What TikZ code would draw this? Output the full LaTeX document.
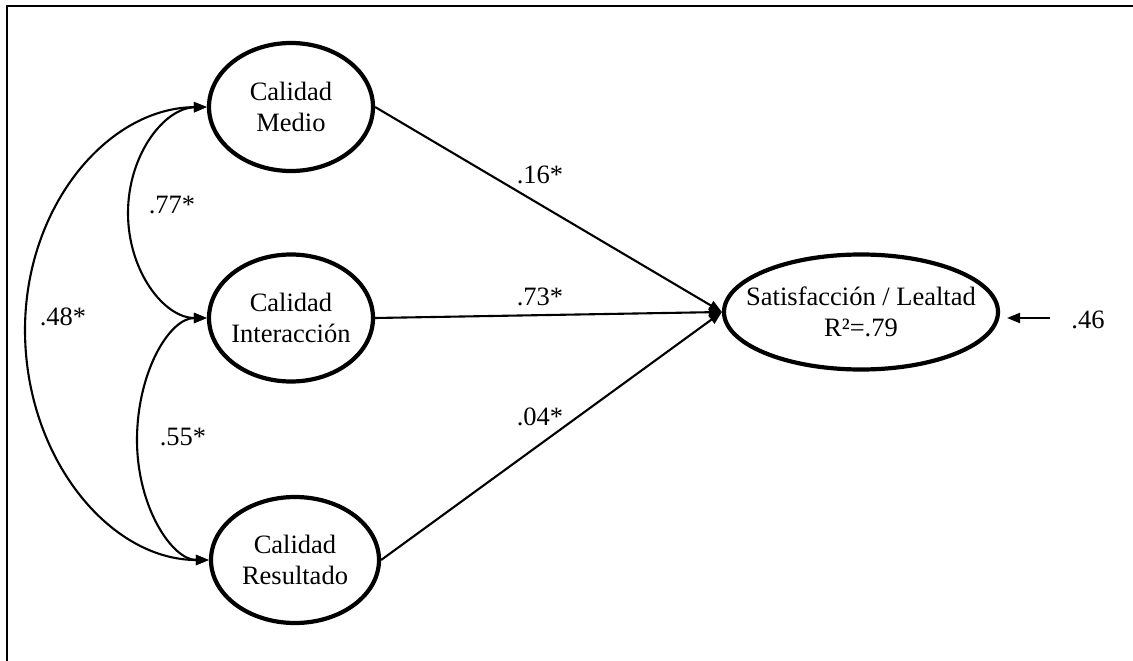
\documentclass[tikz,border=0pt]{standalone}
\usepackage{fontspec}
\setmainfont{Liberation Serif}
\usetikzlibrary{shapes.geometric,arrows.meta}
\begin{document}
\begin{tikzpicture}[x=1pt,y=-1pt,
  lat/.style={ellipse, draw, line width=4.2pt, inner sep=0pt},
  txt/.style={align=center, font=\fontsize{26.5}{31}\selectfont, inner sep=0pt},
  coef/.style={font=\fontsize{26.5}{31}\selectfont, inner sep=0pt},
  path/.style={line width=2.1pt, -{Triangle[length=13pt,width=10pt]}},
  cov/.style={line width=2.1pt, {Triangle[length=13pt,width=10pt]}-{Triangle[length=13pt,width=10pt]}},
  frame/.style={line width=2.8pt}]
\useasboundingbox (0,0) rectangle (1133,661);
% frame
\coordinate (fa) at (7,661);
\coordinate (fb) at (7,6);
\coordinate (fc) at (1133,6);
\draw[frame] (fa) -- (fb) -- (fc);
% latent variables
\node[lat, minimum width=164pt, minimum height=128pt,
  label={[txt]center:{Calidad\\Medio}}] (M) at (291,107) {};
\node[lat, minimum width=164pt, minimum height=127pt,
  label={[txt]center:{Calidad\\Interacción}}] (I) at (291,318) {};
\node[lat, minimum width=168pt, minimum height=126pt,
  label={[txt]center:{Calidad\\Resultado}}] (R) at (295,560) {};
\node[lat, minimum width=274pt, minimum height=115pt,
  label={[txt]center:{Satisfacción / Lealtad\\R²=.79}}] (S) at (861,312) {};
% structural paths
\draw[path] (M.east) -- (S.west);
\draw[path] (I.east) -- (S.west);
\draw[path] (R.east) -- (S.west);
\node[coef] (p1) at (540,175) {.16*};
\node[coef] (p2) at (540,297) {.73*};
\node[coef] (p3) at (540,417) {.04*};
% covariances
\coordinate (k1) at (128,213);
\coordinate (k2) at (137,440);
\coordinate (k3) at (25,330);
\draw[cov] (M.west) .. controls (164,108) and (128,155) .. (k1)
  .. controls (128,271) and (164,318) .. (I.west);
\draw[cov] (I.west) .. controls (169,318) and (137,373) .. (k2)
  .. controls (137,507) and (172,560) .. (R.west);
\draw[cov] (M.west) .. controls (107,108) and (25,207) .. (k3)
  .. controls (25,457) and (109,560) .. (R.west);
\node[coef] (c1) at (172,205) {.77*};
\node[coef] (c2) at (183,437) {.55*};
\node[coef] (c3) at (63,317) {.48*};
% disturbance
\node[coef] (e) at (1088,320) {.46};
\coordinate (ea) at (1050,318);
\coordinate (eb) at (1007,318);
\draw[path] (ea) -- (eb);
\end{tikzpicture}
\end{document}
